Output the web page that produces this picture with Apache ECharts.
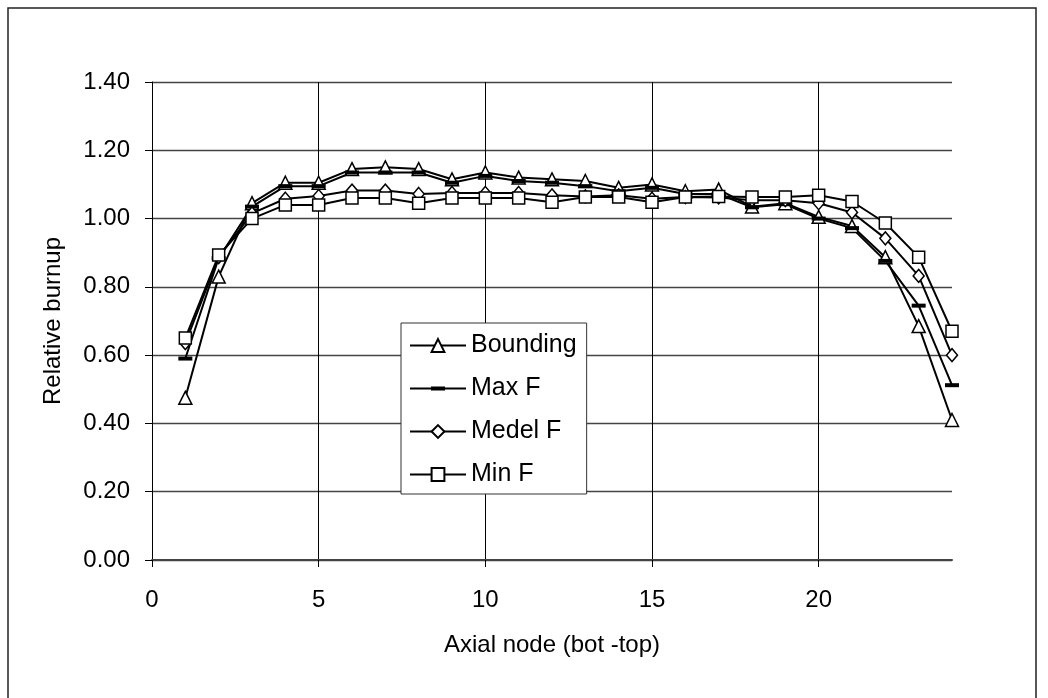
<!DOCTYPE html>
<html>
<head>
<meta charset="utf-8">
<title>Relative burnup by axial node</title>
<script src="https://cdn.jsdelivr.net/npm/echarts@6/dist/echarts.min.js"></script>
<style>
  html, body { margin: 0; padding: 0; background: #fff; }
  #chart { width: 1048px; height: 698px; }
</style>
</head>
<body>
<div id="chart"></div>
<script>
// Axial nodes, bottom to top
const nodes = [1, 2, 3, 4, 5, 6, 7, 8, 9, 10, 11, 12, 13, 14, 15, 16, 17, 18, 19, 20, 21, 22, 23, 24];

// Relative burnup per node for each case
const bounding = [0.475, 0.83, 1.045, 1.105, 1.105, 1.145, 1.15, 1.145, 1.115, 1.135, 1.12, 1.115,
                  1.11, 1.09, 1.10, 1.08, 1.085, 1.035, 1.045, 1.005, 0.978, 0.887, 0.685, 0.41];
const maxF     = [0.59, 0.884, 1.035, 1.095, 1.095, 1.135, 1.135, 1.135, 1.105, 1.125, 1.11, 1.105,
                  1.095, 1.08, 1.09, 1.072, 1.072, 1.033, 1.042, 1.0, 0.972, 0.876, 0.745, 0.512];
const medelF   = [0.635, 0.887, 1.015, 1.058, 1.066, 1.082, 1.082, 1.072, 1.075, 1.075, 1.075, 1.068,
                  1.065, 1.068, 1.058, 1.063, 1.062, 1.054, 1.054, 1.045, 1.018, 0.942, 0.832, 0.60];
const minF     = [0.65, 0.893, 1.0, 1.04, 1.04, 1.06, 1.06, 1.045, 1.06, 1.06, 1.06, 1.048,
                  1.063, 1.063, 1.048, 1.063, 1.065, 1.063, 1.063, 1.068, 1.05, 0.987, 0.887, 0.67];

const seriesNames = ['Bounding', 'Max F', 'Medel F', 'Min F'];
const xTickValues = [0, 5, 10, 15, 20];

const FONT = '"Liberation Sans", Arial, sans-serif';

function pairs(values) {
  return nodes.map((n, i) => [n, values[i]]);
}

function lineSeries(name, values, symbol, symbolSize, filled) {
  return {
    name: name,
    type: 'line',
    data: pairs(values),
    symbol: symbol,
    symbolSize: symbolSize,
    showAllSymbol: true,
    clip: false,
    lineStyle: { color: '#000', width: 2 },
    itemStyle: filled
      ? { color: '#000', borderWidth: 0 }
      : { color: '#fff', borderColor: '#000', borderWidth: 1.5 },
    emphasis: { disabled: true },
    z: 3
  };
}

// Legend glyph for the dash marker: a thin line with a short thick bar
const dashLegendIcon = 'path://M0,1 L56,1 L56,3 L0,3 Z M21,0 L35,0 L35,4 L21,4 Z';

const chart = echarts.init(document.getElementById('chart'), null, { renderer: 'canvas' });

chart.setOption({
  animation: false,
  backgroundColor: '#fff',
  textStyle: { fontFamily: FONT, color: '#000' },
  graphic: [{
    type: 'rect',
    shape: { x: 8, y: 8, width: 1028, height: 720 },
    style: { fill: 'none', stroke: '#222', lineWidth: 1.5 },
    silent: true,
    z: -1
  }],
  grid: { left: 152, right: 96, top: 82, bottom: 138 },
  legend: {
    orient: 'vertical',
    left: 401,
    top: 323,
    padding: [10, 10, 7, 8],
    itemGap: 18,
    itemWidth: 56,
    itemHeight: 16,
    backgroundColor: '#fff',
    borderColor: '#333',
    borderWidth: 1,
    borderRadius: 0,
    selectedMode: false,
    textStyle: { fontFamily: FONT, fontSize: 25, color: '#000', lineHeight: 24 },
    data: [
      { name: seriesNames[0] },
      { name: seriesNames[1], icon: dashLegendIcon },
      { name: seriesNames[2] },
      { name: seriesNames[3] }
    ]
  },
  xAxis: {
    type: 'value',
    min: 0,
    max: 24,
    interval: 5,
    name: 'Axial node (bot -top)',
    nameLocation: 'middle',
    nameGap: 73,
    nameTextStyle: { fontFamily: FONT, fontSize: 24, color: '#000' },
    axisLine: { show: true, onZero: false, lineStyle: { color: '#444', width: 2 } },
    axisTick: { show: true, inside: false, length: 7, customValues: xTickValues, lineStyle: { color: '#000', width: 1 } },
    axisLabel: {
      show: true,
      margin: 28,
      fontFamily: FONT,
      fontSize: 24,
      color: '#000',
      customValues: xTickValues,
      formatter: v => String(v)
    },
    splitLine: { show: true, lineStyle: { color: '#000', width: 1 } }
  },
  yAxis: {
    type: 'value',
    min: 0,
    max: 1.4,
    interval: 0.2,
    name: 'Relative burnup',
    nameLocation: 'middle',
    nameGap: 87,
    nameTextStyle: { fontFamily: FONT, fontSize: 24, color: '#000' },
    axisLine: { show: true, lineStyle: { color: '#000', width: 1 } },
    axisTick: { show: true, inside: false, length: 7, lineStyle: { color: '#000', width: 1 } },
    axisLabel: {
      margin: 22,
      fontFamily: FONT,
      fontSize: 24,
      color: '#000',
      formatter: v => v.toFixed(2)
    },
    splitLine: { show: true, lineStyle: { color: '#444', width: 1.3 } }
  },
  series: [
    lineSeries(seriesNames[0], bounding, 'triangle', 13, false),
    lineSeries(seriesNames[1], maxF, 'rect', [14, 4], true),
    lineSeries(seriesNames[2], medelF, 'diamond', [11, 13], false),
    lineSeries(seriesNames[3], minF, 'rect', 12, false)
  ]
});
</script>
</body>
</html>
